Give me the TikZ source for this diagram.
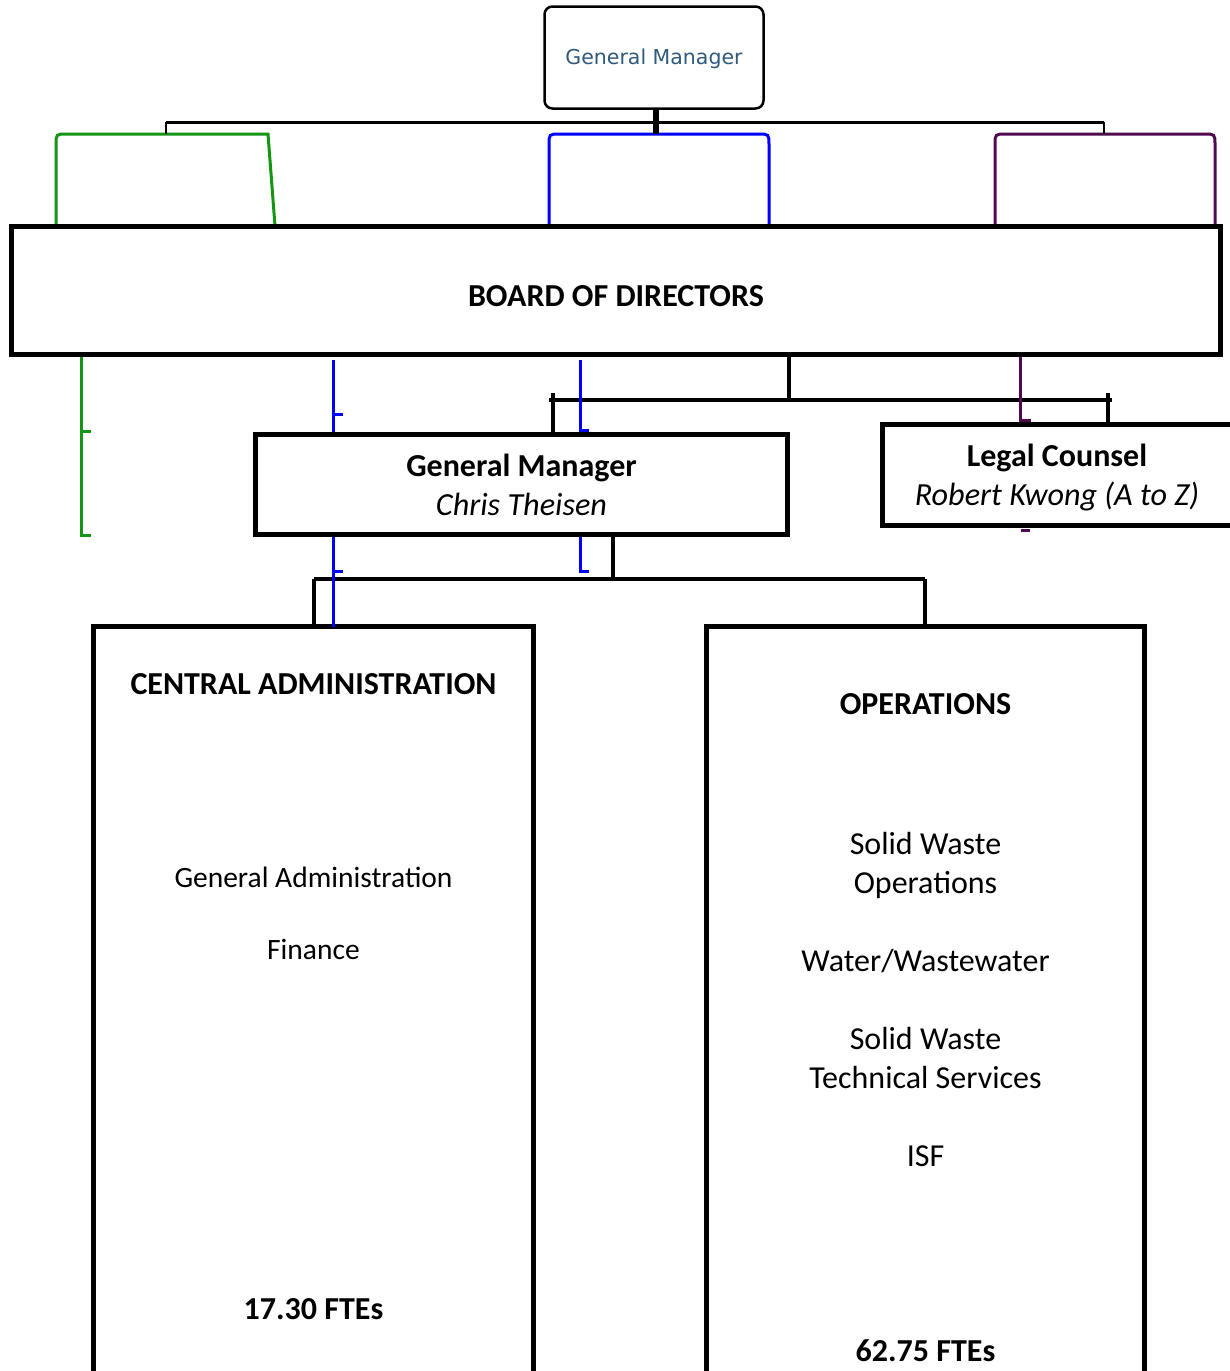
\documentclass[tikz,border=0pt]{standalone}
\usepackage{fontspec}
\setmainfont{Carlito}
\newfontfamily\verd{DejaVu Sans}
\definecolor{grn}{RGB}{20,150,20}
\definecolor{blu}{RGB}{0,0,255}
\definecolor{purp}{RGB}{80,10,80}
\definecolor{gmtext}{RGB}{47,89,125}
\begin{document}
\begin{tikzpicture}[x=1pt,y=-1pt,
  txt/.style={font=\fontsize{32}{39}\selectfont, anchor=base, inner sep=0pt},
  stxt/.style={font=\fontsize{29.5}{39}\selectfont, anchor=base, inner sep=0pt},
  btxt/.style={font=\fontsize{32}{39}\selectfont\bfseries, anchor=base, inner sep=0pt},
  itxt/.style={font=\fontsize{32.2}{39}\selectfont\itshape, anchor=base, inner sep=0pt},
  area/.style={inner sep=0pt, outer sep=0pt},
  blackconn/.style={line width=4.5pt},
  thinconn/.style={line width=3pt},
  line cap=butt]
\useasboundingbox (0,0) rectangle (1230,1371);
\fill[white] (0,0) rectangle (1230,1371);

% ---------- top General Manager box ----------
\node[draw, line width=2.5pt, rounded corners=8pt, minimum width=219pt, minimum height=102pt, inner sep=0pt, outer sep=0pt] (topgm) at (654,57.5) {};
\node[font=\verd\fontsize{20.5}{24}\selectfont, text=gmtext, anchor=base, inner sep=0pt] (topgmtxt) at (654,64) {General Manager};

% ---------- board ----------
\node[area, minimum width=1209pt, minimum height=128pt] (board) at (616,290.5) {};

% coordinates for the upper connectors
\coordinate (tv) at (656,122);
\coordinate (tl) at (166,122);
\coordinate (tr) at (1104,122);
\coordinate (ctop) at (0,134);

% coloured partial boxes (hidden behind the board)
\draw[grn, thinconn] (56,226) -- (56,145) .. controls (56,134) .. (67,134) -- (268,134) -- (275,226);
\draw[blu, thinconn] (549,226) -- (549,145) .. controls (549,134) .. (560,134) -- (758,134) .. controls (769,134) .. (769,145) -- (769,226);
\draw[purp, thinconn] (995,226) -- (995,145) .. controls (995,134) .. (1006,134) -- (1204,134) .. controls (1215,134) .. (1215,145) -- (1215,226);

% top connector
\draw[line width=6pt] (topgm.south -| tv) -- (tv |- ctop);
\draw[line width=3pt] (tl) -- (tr);
\draw[line width=2.5pt] (tl) -- (tl |- ctop);
\draw[line width=2.5pt] (tr) -- (tr |- ctop);

% board drawn over the coloured shapes
\draw[line width=5pt, fill=white] (board.north west) rectangle (board.south east);
\node[btxt] (boardtxt) at (616,306) {BOARD OF DIRECTORS};

% ---------- General Manager box ----------
\node[area, minimum width=532pt, minimum height=100pt] (gm) at (521.5,484.5) {};
\node[btxt] (gmtitle) at (521.5,476) {General Manager};
\node[itxt] (gmname) at (521.5,515) {Chris Theisen};

% ---------- Legal Counsel box (open on the right) ----------
\node[area, minimum width=347.5pt, minimum height=101pt] (legal) at (1056.25,475) {};
\node[btxt] (legaltitle) at (1057,466) {Legal Counsel};
\node[itxt] (legalname) at (1057,505) {Robert Kwong (A to Z)};

% ---------- Central Administration & Operations (open at bottom) ----------
\node[area, minimum width=440pt, minimum height=744.5pt] (ca) at (313.5,998.75) {};
\node[area, minimum width=438pt, minimum height=744.5pt] (op) at (925.5,998.75) {};
\draw[line width=4.5pt] (ca.south west) -- (ca.north west) -- (ca.north east) -- (ca.south east);
\draw[line width=4.5pt] (op.south west) -- (op.north west) -- (op.north east) -- (op.south east);

\node[btxt] (catitle) at (313.5,694) {CENTRAL ADMINISTRATION};
\node[stxt] (ca1) at (313.5,887) {General Administration};
\node[stxt] (ca2) at (313.5,959) {Finance};
\node[btxt] (cafte) at (313.5,1319) {17.30 FTEs};

\node[btxt] (optitle) at (925.5,714) {OPERATIONS};
\node[txt] (op1) at (925.5,854) {Solid Waste};
\node[txt] (op1b) at (925.5,893) {Operations};
\node[txt] (op2) at (925.5,971) {Water/Wastewater};
\node[txt] (op3) at (925.5,1049) {Solid Waste};
\node[txt] (op3b) at (925.5,1088) {Technical Services};
\node[txt] (op4) at (925.5,1166) {ISF};
\node[btxt] (opfte) at (925.5,1361) {62.75 FTEs};

% ---------- connectors below the board ----------
% black: board -> GM and Legal Counsel
\coordinate (bv) at (789,400);
\coordinate (bl) at (549,400);
\coordinate (br) at (1112,400);
\coordinate (dl) at (553,393);
\coordinate (dr) at (1108,393);
\draw[blackconn] (board.south -| bv) -- (bv);
\draw[blackconn] (bl) -- (br);
\draw[blackconn] (dl) -- (dl |- gm.north);
\draw[blackconn] (dr) -- (dr |- legal.north);

% black: GM -> divisions
\coordinate (gv) at (613,579);
\coordinate (hl) at (314,579);
\coordinate (hr) at (925,579);
\draw[blackconn] (gm.south -| gv) -- (gv);
\draw[blackconn] (hl) -- (hr);
\draw[blackconn] (hl) -- (hl |- ca.north);
\draw[blackconn] (hr) -- (hr |- op.north);

% green
\coordinate (g1) at (81,431);
\coordinate (g2) at (81,535);
\draw[grn, thinconn] (81,357) -- (g2) -- ++(10,0);
\draw[grn, thinconn] (g1) -- ++(10,0);

% blue
\coordinate (b1) at (333,414);
\coordinate (b2) at (333,571);
\coordinate (b3) at (580,430);
\coordinate (b4) at (580,571);
\draw[blu, thinconn] (b1 |- 0,360) -- (b1 |- gm.north);
\draw[blu, thinconn] (b1) -- ++(10,0);
\draw[blu, thinconn] (b2 |- gm.south) -- (b2 |- ca.north);
\draw[blu, thinconn] (b2) -- ++(10,0);
\draw[blu, thinconn] (b3 |- 0,360) -- (b3) -- ++(9,0);
\draw[blu, thinconn] (b4 |- gm.south) -- (b4) -- ++(9,0);

% purple
\coordinate (p1) at (1020,420);
\coordinate (p2) at (1021,530);
\draw[purp, thinconn] (board.south -| p1) -- (p1) -- ++(11,0);
\draw[purp, line width=3pt] (p2) -- ++(9,0);

% box outlines over the connectors
\draw[line width=5pt] (gm.north west) rectangle (gm.south east);
\draw[line width=5pt] (legal.north east) -- (legal.north west) -- (legal.south west) -- (legal.south east);
\draw[line width=5pt] (board.north west) rectangle (board.south east);
\end{tikzpicture}
\end{document}
